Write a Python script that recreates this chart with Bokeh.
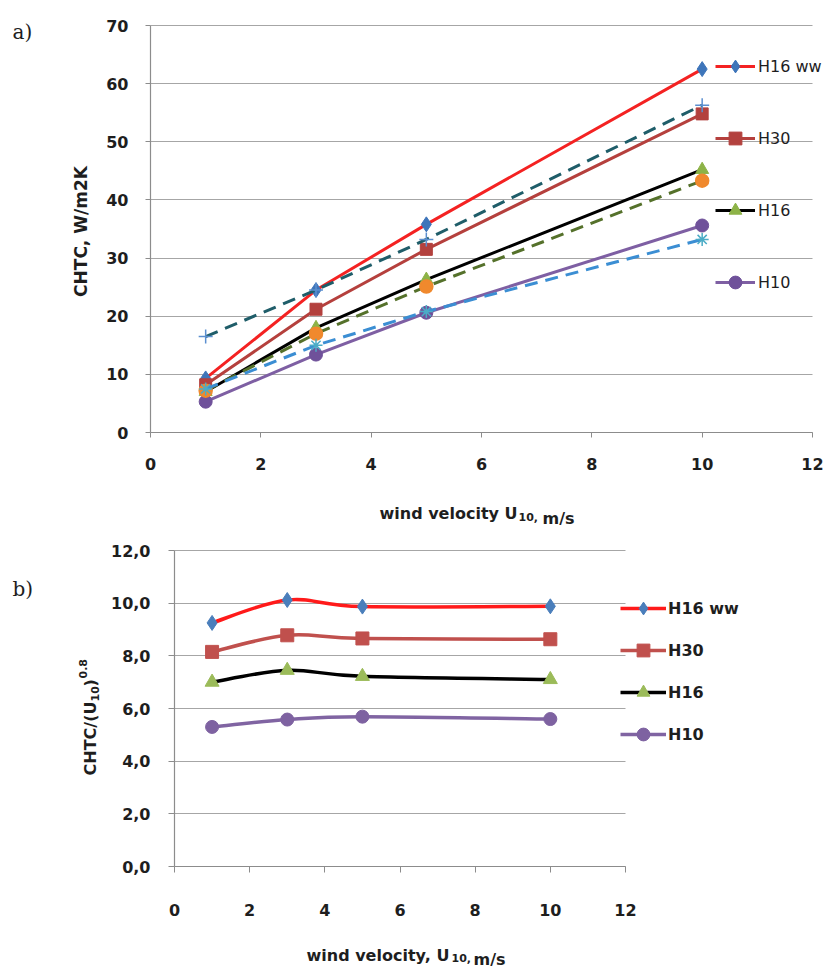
import numpy as np
from bokeh.plotting import figure
from bokeh.models import (Range1d, Legend, LegendItem, Label, FixedTicker,
                          CustomJSTickFormatter)
from bokeh.layouts import column
from bokeh.embed import file_html
from bokeh.resources import INLINE

# ---------------- data ----------------
wind = [1, 3, 5, 10]

# a) CHTC, W/m2K
chtc_h16ww = [9.3, 24.5, 35.8, 62.5]
chtc_h30 = [8.2, 21.2, 31.5, 54.8]
chtc_h16 = [7.0, 18.0, 26.3, 45.2]
chtc_h10 = [5.3, 13.4, 20.6, 35.6]
chtc_dash_plus = [16.5, 24.5, 33.2, 56.3]
chtc_dash_orange = [7.2, 17.0, 25.1, 43.3]
chtc_dash_star = [7.5, 15.0, 20.8, 33.2]

# b) CHTC/(U10)^0.8
norm_h16ww = [9.25, 10.12, 9.87, 9.88]
norm_h30 = [8.15, 8.78, 8.66, 8.63]
norm_h16 = [7.0, 7.45, 7.22, 7.1]
norm_h10 = [5.3, 5.58, 5.69, 5.6]

series_labels = ["H16 ww", "H30", "H16", "H10"]
x_ticks = [0, 2, 4, 6, 8, 10, 12]
y_ticks_a = [0, 10, 20, 30, 40, 50, 60, 70]
y_ticks_b = [0, 2, 4, 6, 8, 10, 12]
x_lim = (0, 12)
y_lim_a = (0, 70)
y_lim_b = (0, 12)

GRID = "#A6A6A6"
AXIS = "#8C8C8C"
TXT = "#1E1E1E"
FONT = "DejaVu Sans"
W = 827


class Mapper:
    """page-pixel box of the plotting area -> data coordinates"""

    def __init__(self, left, right, top, bottom, xlim, ylim):
        self.l, self.r, self.t, self.b = left, right, top, bottom
        self.xlim, self.ylim = xlim, ylim

    def x(self, px):
        return self.xlim[0] + (px - self.l) / (self.r - self.l) * (self.xlim[1] - self.xlim[0])

    def y(self, py):
        return self.ylim[0] + (self.b - py) / (self.b - self.t) * (self.ylim[1] - self.ylim[0])


def make_fig(m, page_top, page_bottom, xticks, yticks, x_standoff, y_standoff, tick_out):
    p = figure(width=W, height=page_bottom - page_top,
               x_range=Range1d(m.x(0), m.x(W)),
               y_range=Range1d(m.y(page_bottom), m.y(page_top)),
               output_backend="svg", toolbar_location=None,
               min_border=0, min_border_left=0, min_border_right=0,
               min_border_top=0, min_border_bottom=0)
    p.outline_line_color = None
    p.xgrid.visible = False
    p.ygrid.grid_line_color = GRID
    p.ygrid.grid_line_width = 1
    p.ygrid.cross_bounds = m.xlim
    p.ygrid.ticker = FixedTicker(ticks=yticks)
    xa, ya = p.xaxis[0], p.yaxis[0]
    xa.ticker = FixedTicker(ticks=xticks)
    ya.ticker = FixedTicker(ticks=yticks)
    xa.fixed_location = m.ylim[0]
    ya.fixed_location = m.xlim[0]
    xa.bounds = m.xlim
    ya.bounds = m.ylim
    for ax in (xa, ya):
        ax.axis_line_color = AXIS
        ax.axis_line_width = 1.2
        ax.major_tick_line_color = AXIS
        ax.major_tick_in = 0
        ax.major_tick_out = tick_out
        ax.minor_tick_line_color = None
        ax.major_label_text_font = FONT
        ax.major_label_text_font_style = "bold"
        ax.major_label_text_font_size = "16px"
        ax.major_label_text_color = TXT
    xa.major_label_standoff = x_standoff
    ya.major_label_standoff = y_standoff
    return p


def smooth(xs, ys):
    n = len(xs)
    d = dict(x0=[], y0=[], x1=[], y1=[], cx0=[], cy0=[], cx1=[], cy1=[])
    for i in range(n - 1):
        ip = max(i - 1, 0)
        inx = min(i + 2, n - 1)
        d["x0"].append(xs[i]); d["y0"].append(ys[i])
        d["x1"].append(xs[i + 1]); d["y1"].append(ys[i + 1])
        d["cx0"].append(xs[i] + (xs[i + 1] - xs[ip]) / 6)
        d["cy0"].append(ys[i] + (ys[i + 1] - ys[ip]) / 6)
        d["cx1"].append(xs[i + 1] - (xs[inx] - xs[i]) / 6)
        d["cy1"].append(ys[i + 1] - (ys[inx] - ys[i]) / 6)
    return d


def lab(p, m, px, py, text, size, bold=True, align="left", baseline="alphabetic",
        angle=0.0, font=FONT):
    p.add_layout(Label(x=m.x(px), y=m.y(py), x_units="data", y_units="data",
                       text=text, text_font=font, text_font_size=size,
                       text_font_style="bold" if bold else "normal",
                       text_align=align, text_baseline=baseline,
                       angle=angle, text_color=TXT))


# ---------------- chart a ----------------
TOP1, BOT1 = 0, 528
m1 = Mapper(150, 812, 25, 432, x_lim, y_lim_a)
p1 = make_fig(m1, TOP1, BOT1, x_ticks, y_ticks_a, 20, 17, 5)

items1 = []
solid = [
    (chtc_h16ww, "#F42222", "diamond", "#3E75BA", 15),
    (chtc_h30, "#B5403D", "square", "#B3413E", 12),
    (chtc_h16, "#000000", "triangle", "#8DB347", 13),
    (chtc_h10, "#7E5FA3", "circle", "#6F519A", 13),
]
for (ys, lc, mk, mc, ms), name in zip(solid, series_labels):
    lr = p1.line(wind, ys, line_color=lc, line_width=3)
    sr = p1.scatter(wind, ys, marker=mk, size=ms, fill_color=mc, line_color=mc)
    items1.append(LegendItem(label=name, renderers=[lr, sr]))

dashed = [
    (chtc_dash_plus, "#1F5D69", "cross", "#5B8FD0", 14),
    (chtc_dash_orange, "#55712B", "circle", "#F0892D", 13),
    (chtc_dash_star, "#3B8ED3", "asterisk", "#4BACC6", 13),
]
for ys, lc, mk, mc, ms in dashed:
    p1.line(wind, ys, line_color=lc, line_width=3, line_dash="13 8")
    p1.scatter(wind, ys, marker=mk, size=ms, fill_color=mc, line_color=mc,
               line_width=1.5)

# legend: left edge at page x 715, bottom at page y 298
leg1 = Legend(items=items1, location=(715, BOT1 - 298), padding=0, margin=0,
              border_line_alpha=0, background_fill_alpha=0,
              glyph_width=40, glyph_height=32, label_height=32, spacing=40,
              label_standoff=3, label_text_font=FONT, label_text_font_size="16px",
              label_text_color=TXT)
p1.add_layout(leg1, "center")

lab(p1, m1, 12, 31, "a)", "20px", bold=False, baseline="middle", font="DejaVu Serif")
lab(p1, m1, 80, 231, "CHTC, W/m2K", "17px", align="center", baseline="middle",
    angle=np.pi / 2)
lab(p1, m1, 379, 513, "wind velocity U", "16px")
lab(p1, m1, 518, 516, "10,", "11px")
lab(p1, m1, 542, 518, "m/s", "16px")

# ---------------- chart b ----------------
TOP2, BOT2 = 528, 971
m2 = Mapper(174, 625, 550, 866, x_lim, y_lim_b)
p2 = make_fig(m2, TOP2, BOT2, x_ticks, y_ticks_b, 31, 18, 6)
p2.yaxis[0].formatter = CustomJSTickFormatter(
    code="return tick.toFixed(1).replace('.', ',');")

items2 = []
solid2 = [
    (norm_h16ww, "#FF1A1A", "diamond", "#4A7EBB", 15),
    (norm_h30, "#C0504D", "square", "#C0504D", 13),
    (norm_h16, "#000000", "triangle", "#9BBB59", 14),
    (norm_h10, "#8064A2", "circle", "#7E62A1", 13),
]
for (ys, lc, mk, mc, ms), name in zip(solid2, series_labels):
    d = smooth(wind, ys)
    br = p2.bezier(x0=d["x0"], y0=d["y0"], x1=d["x1"], y1=d["y1"],
                   cx0=d["cx0"], cy0=d["cy0"], cx1=d["cx1"], cy1=d["cy1"],
                   line_color=lc, line_width=3.5)
    sr = p2.scatter(wind, ys, marker=mk, size=ms, fill_color=mc, line_color=mc)
    items2.append(LegendItem(label=name, renderers=[br, sr]))

# legend: left edge at page x 620, bottom at page y 750
leg2 = Legend(items=items2, location=(620, BOT2 - 750), padding=0, margin=0,
              border_line_alpha=0, background_fill_alpha=0,
              glyph_width=46, glyph_height=32, label_height=32, spacing=10,
              label_standoff=2, label_text_font=FONT, label_text_font_size="16px",
              label_text_font_style="bold", label_text_color=TXT)
p2.add_layout(leg2, "center")

lab(p2, m2, 12, 588, "b)", "20px", bold=False, baseline="middle", font="DejaVu Serif")
lab(p2, m2, 90, 775, "CHTC/(U", "16px", angle=np.pi / 2)
lab(p2, m2, 94, 701, "10", "11px", angle=np.pi / 2)
lab(p2, m2, 90, 686, ")", "16px", angle=np.pi / 2)
lab(p2, m2, 82, 678, "0.8", "11px", angle=np.pi / 2)
lab(p2, m2, 306, 955, "wind velocity, U", "16px")
lab(p2, m2, 451, 957, "10,", "11px")
lab(p2, m2, 473, 959, "m/s", "16px")

layout = column(p1, p2, spacing=0)
open("out.html", "w").write(file_html(layout, INLINE))
